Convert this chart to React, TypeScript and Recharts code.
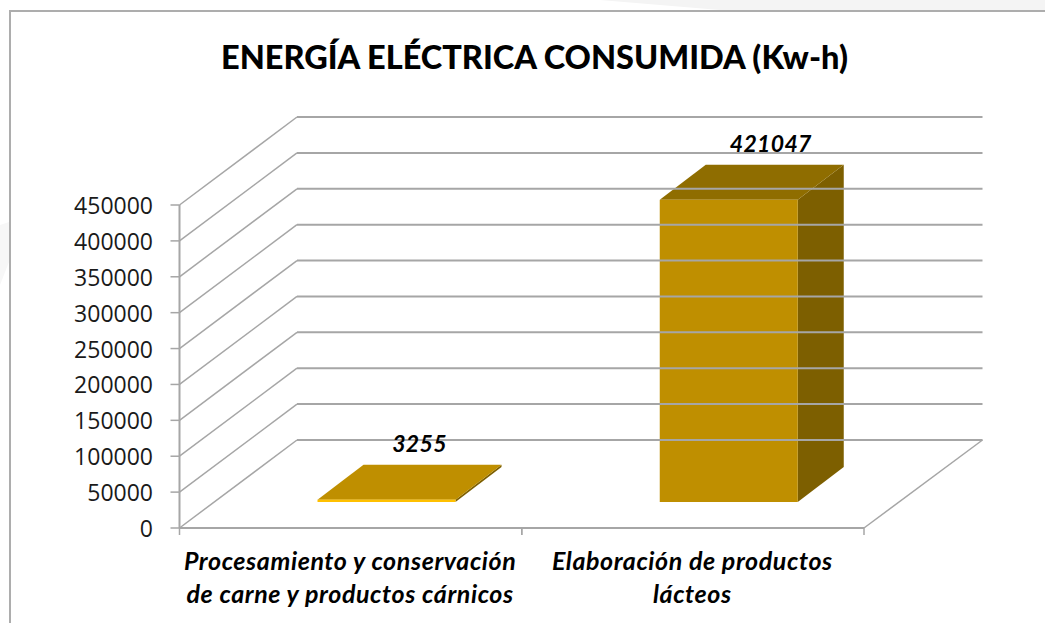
import React from "react";
import { BarChart, Bar, XAxis, YAxis, LabelList } from "recharts";

const categories = [
  "Procesamiento y conservación de carne y productos cárnicos",
  "Elaboración de productos lácteos",
];
const categoryLines = [
  ["Procesamiento y conservación", "de carne y productos cárnicos"],
  ["Elaboración de productos", "lácteos"],
];
const energy = [3255, 421047];
const yTicks = [0, 50000, 100000, 150000, 200000, 250000, 300000, 350000, 400000, 450000];
const titleText = "ENERGÍA ELÉCTRICA CONSUMIDA (Kw-h)";

const rows = categories.map((name, i) => ({ name, energy: energy[i] }));

const FONT = "Lato, 'Open Sans', sans-serif";
const DIGIT_FONT = "'Open Sans', Lato, sans-serif";
const GRID = "#a6a6a6";
const GRID_W = 2;
const LEFT = 179.5;
const RIGHT = 864;
const BOTTOM = 528;
const WALL_DX = 117.5;
const WALL_DY = 88;
const BAR_DX = 46;
const BAR_DY = 35;
const BAR_SHIFT_X = 36;
const BAR_SHIFT_Y = 26;
const LABEL_SHIFT = [69, 78];

function YTick(props: any) {
  const { y, payload } = props;
  const isZero = payload.value === 0;
  const bx = LEFT + WALL_DX;
  const by = y - WALL_DY;
  return (
    <g>
      <line x1={LEFT} y1={y} x2={bx} y2={by} stroke={GRID} strokeWidth={GRID_W - 0.5} />
      <line x1={bx} y1={by} x2={RIGHT + WALL_DX + 1} y2={by} stroke={GRID} strokeWidth={GRID_W} />
      <line x1={LEFT - 9} y1={y} x2={LEFT} y2={y} stroke={GRID} strokeWidth={GRID_W - 0.5} />
      {isZero && (
        <line x1={RIGHT} y1={y} x2={RIGHT + WALL_DX + 1} y2={by} stroke={GRID} strokeWidth={GRID_W - 0.5} />
      )}
      <text x={153} y={y + 9} textAnchor="end" fontFamily={DIGIT_FONT} fontSize={23} fill="#1a1a1a">
        {payload.value}
      </text>
    </g>
  );
}

function XTick(props: any) {
  const { x, payload, index } = props;
  const half = payload.offset ?? 171;
  const lines = categoryLines[index] ?? [payload.value];
  return (
    <g>
      <line x1={x - half} y1={BOTTOM} x2={x - half} y2={BOTTOM + 7} stroke={GRID} strokeWidth={1.5} />
      <line x1={x + half} y1={BOTTOM} x2={x + half} y2={BOTTOM + 7} stroke={GRID} strokeWidth={1.5} />
      {lines.map((line: string, i: number) => (
        <text
          key={i}
          x={x - 0.5}
          y={BOTTOM + 42 + i * 32.5}
          textAnchor="middle"
          fontFamily={FONT}
          fontSize={25}
          letterSpacing={0.6}
          fontWeight={700}
          fontStyle="italic"
          fill="#000"
        >
          {line}
        </text>
      ))}
    </g>
  );
}

function Box3D(props: any) {
  const { x, y, width, height } = props;
  const x0 = x + BAR_SHIFT_X;
  const x1 = x0 + width;
  const top = y - BAR_SHIFT_Y;
  const bot = top + height;
  const flat = height < 6;
  const front = flat ? "#ffc000" : "#bf8f00";
  const topFill = flat ? "#bf8f00" : "#8f6d00";
  const side = "#7d5f00";
  return (
    <g>
      <polygon
        points={`${x1},${top} ${x1 + BAR_DX},${top - BAR_DY} ${x1 + BAR_DX},${bot - BAR_DY} ${x1},${bot}`}
        fill={side}
      />
      <polygon
        points={`${x0},${top} ${x0 + BAR_DX},${top - BAR_DY} ${x1 + BAR_DX},${top - BAR_DY} ${x1},${top}`}
        fill={topFill}
      />
      <rect x={x0} y={top} width={width} height={height} fill={front} />
    </g>
  );
}

function ValueLabel(props: any) {
  const { x, y, width, value, index } = props;
  return (
    <text
      x={x + width / 2 + LABEL_SHIFT[index]}
      y={y - 48 - BAR_SHIFT_Y}
      textAnchor="middle"
      fontFamily={FONT}
      fontSize={23}
      letterSpacing={0.3}
      fontWeight={700}
      fontStyle="italic"
      fill="#000"
    >
      {value}
    </text>
  );
}

export default function App() {
  return (
    <div style={{ position: "absolute", left: 0, top: 0, width: 1045, height: 623, background: "#fff", overflow: "hidden" }}>
      <div
        style={{
          position: "absolute",
          inset: 0,
          background: "#f4f4f4",
          clipPath: "polygon(600px 0, 1045px 0, 1045px 10px, 720px 10px)",
        }}
      />
      <div
        style={{
          position: "absolute",
          inset: 0,
          background: "#f7f7f7",
          clipPath: "polygon(0 225px, 9px 222px, 9px 262px, 0 285px)",
        }}
      />
      <div
        style={{
          position: "absolute",
          left: 9,
          top: 10,
          width: 1100,
          height: 700,
          border: "2px solid #adadad",
          boxSizing: "border-box",
        }}
      />
      <div style={{ position: "absolute", left: 0, top: 0 }}>
        <BarChart
          width={1045}
          height={623}
          data={rows}
          margin={{ top: 205, right: 1045 - RIGHT, bottom: 5, left: 0 }}
          barSize={138}
        >
          <text x={534.5} y={68.5} textAnchor="middle" fontFamily={FONT} fontSize={32.5} fontWeight={900} fill="#000">
            {titleText}
          </text>
          <YAxis
            width={LEFT}
            domain={[0, 450000]}
            ticks={yTicks}
            interval={0}
            tick={YTick}
            tickLine={false}
            tickSize={0}
            axisLine={{ stroke: GRID, strokeWidth: GRID_W }}
          />
          <XAxis
            dataKey="name"
            height={90}
            interval={0}
            tick={XTick}
            tickLine={false}
            axisLine={{ stroke: GRID, strokeWidth: GRID_W }}
          />
          <Bar dataKey="energy" isAnimationActive={false} shape={Box3D}>
            <LabelList dataKey="energy" content={ValueLabel} />
          </Bar>
        </BarChart>
      </div>
    </div>
  );
}
